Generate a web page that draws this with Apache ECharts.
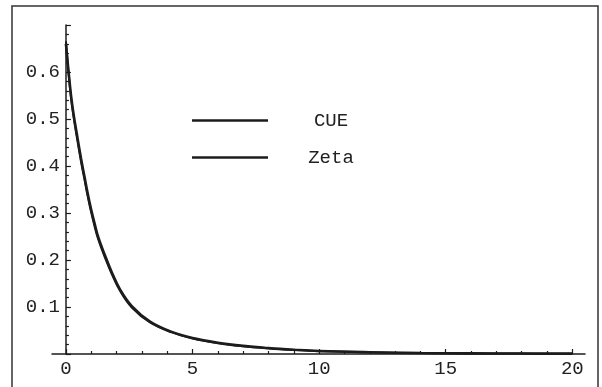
<!DOCTYPE html>
<html>
<head>
<meta charset="utf-8">
<script src="https://cdn.jsdelivr.net/npm/echarts@6/dist/echarts.min.js"></script>
<style>html,body{margin:0;padding:0;background:#fff}#c{width:602px;height:387px}</style>
</head>
<body>
<div id="c"></div>
<script>
var xs = [0, 0.1, 0.2, 0.3, 0.45, 0.6, 0.73, 0.85, 0.98, 1.13, 1.28, 1.54, 1.81, 2.14, 2.6, 3.32, 4.18, 5, 6, 7, 8, 9, 10, 12, 14, 16, 18, 20];
var cue = [0.665, 0.6, 0.545, 0.505, 0.455, 0.408, 0.372, 0.338, 0.305, 0.272, 0.243, 0.205, 0.17, 0.134, 0.099, 0.067, 0.046, 0.033, 0.023, 0.0165, 0.012, 0.0085, 0.006, 0.0035, 0.002, 0.0013, 0.0009, 0.0006];
var zeta = [0.66, 0.603, 0.551, 0.511, 0.462, 0.415, 0.378, 0.344, 0.311, 0.278, 0.248, 0.21, 0.174, 0.137, 0.102, 0.069, 0.047, 0.034, 0.024, 0.0172, 0.0125, 0.009, 0.0063, 0.0037, 0.0021, 0.0014, 0.001, 0.0007];
var xMajor = [0, 5, 10, 15, 20];
var xMinor = [1, 2, 3, 4, 6, 7, 8, 9, 11, 12, 13, 14, 16, 17, 18, 19];
var yLabels = [0.1, 0.2, 0.3, 0.4, 0.5, 0.6];
var seriesNames = ['CUE', 'Zeta'];

function pairs(x, y) { return x.map(function (v, i) { return [v, y[i]]; }); }
var font = 'Liberation Mono';
var ink = '#1c1c1c';

var chart = echarts.init(document.getElementById('c'), null, {renderer: 'canvas'});
chart.setOption({
  animation: false,
  backgroundColor: '#fff',
  graphic: [{
    type: 'rect', shape: {x: 12, y: 6, width: 586, height: 400},
    style: {fill: 'none', stroke: '#333', lineWidth: 1.5}, silent: true
  }],
  grid: {left: 52, right: 17, top: 25, bottom: 33},
  legend: {
    orient: 'vertical', left: 192, top: 111, padding: 0, itemWidth: 76, itemHeight: 2.5, itemGap: 18,
    icon: 'rect',
    data: seriesNames,
    formatter: function (n) { return '{a|' + n + '}'; },
    textStyle: {fontFamily: font, fontSize: 19, color: '#222',
      rich: {a: {fontFamily: font, fontSize: 19, color: '#222', width: 116, align: 'center'}}}
  },
  xAxis: [{
    type: 'value', min: -0.55, max: 20.5,
    axisLine: {show: true, onZero: true, lineStyle: {color: ink, width: 1.5}},
    axisTick: {show: true, inside: true, length: 5, customValues: xMajor, lineStyle: {color: ink, width: 1.2}},
    axisLabel: {customValues: xMajor, fontFamily: font, fontSize: 19, color: '#222', margin: 5},
    splitLine: {show: false}
  }, {
    type: 'value', min: -0.55, max: 20.5, position: 'bottom',
    axisLine: {show: false},
    axisTick: {show: true, inside: true, length: 3, customValues: xMinor, lineStyle: {color: ink, width: 1.2}},
    axisLabel: {show: false},
    splitLine: {show: false}
  }],
  yAxis: {
    type: 'value', min: 0, max: 0.7, interval: 0.1,
    axisLine: {show: true, onZero: true, lineStyle: {color: ink, width: 1.5}},
    axisTick: {show: true, inside: true, length: 5, lineStyle: {color: ink, width: 1.2}},
    minorTick: {show: true, splitNumber: 5, length: 3, lineStyle: {color: ink, width: 1.2}},
    axisLabel: {customValues: yLabels, fontFamily: font, fontSize: 19, color: '#222', margin: -8,
      formatter: function (v) { return v.toFixed(1); }},
    splitLine: {show: false}
  },
  series: [{
    name: seriesNames[0], type: 'line', data: pairs(xs, cue), showSymbol: false, symbol: 'none',
    smooth: 0.4, lineStyle: {color: ink, width: 2}, itemStyle: {color: ink}
  }, {
    name: seriesNames[1], type: 'line', data: pairs(xs, zeta), showSymbol: false, symbol: 'none',
    smooth: 0.4, lineStyle: {color: ink, width: 2.6}, itemStyle: {color: ink}
  }]
});
</script>
</body>
</html>
